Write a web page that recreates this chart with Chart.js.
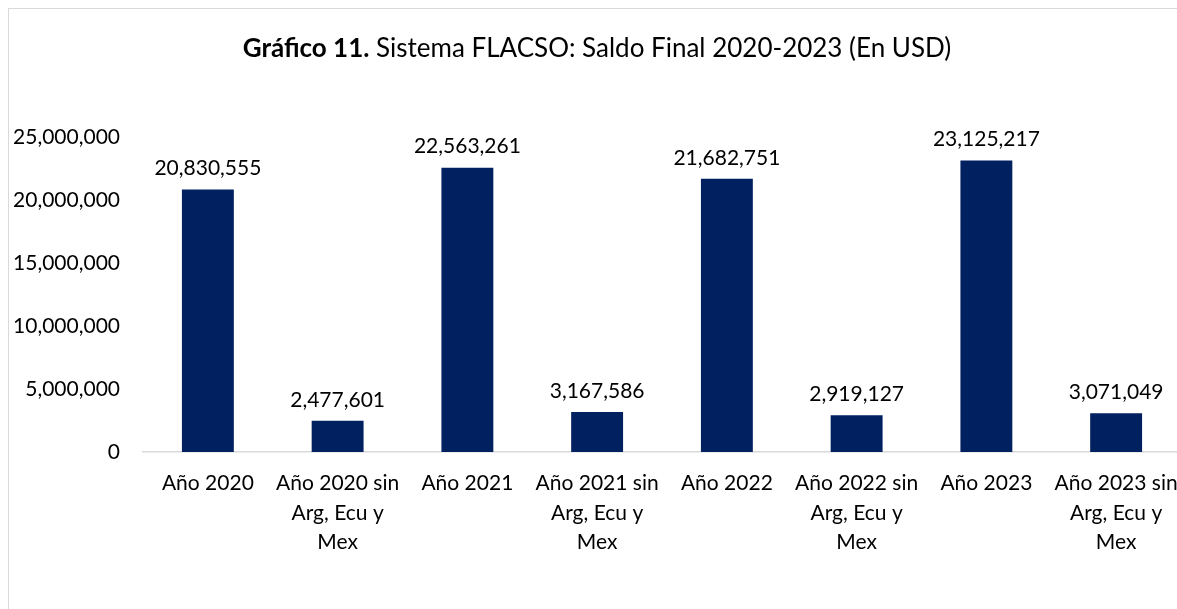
<!DOCTYPE html>
<html>
<head>
<meta charset="utf-8">
<script src="https://cdn.jsdelivr.net/npm/chart.js@4.4.0/dist/chart.umd.min.js"></script>
<style>
  html, body { margin: 0; padding: 0; background: #ffffff; overflow: hidden; width: 1177px; height: 609px; }
  #frame { position: absolute; left: 8px; top: 8px; width: 1220px; height: 640px; border: 1px solid #d9d9d9; box-sizing: border-box; }
  #wrap { position: absolute; left: 9px; top: 9px; width: 1190px; height: 600px; }
</style>
</head>
<body>
<div id="frame"></div>
<div id="wrap"><canvas id="c" width="1190" height="600"></canvas></div>
<script>
const categories = [
  "Año 2020",
  ["Año 2020 sin", "Arg, Ecu y", "Mex"],
  "Año 2021",
  ["Año 2021 sin", "Arg, Ecu y", "Mex"],
  "Año 2022",
  ["Año 2022 sin", "Arg, Ecu y", "Mex"],
  "Año 2023",
  ["Año 2023 sin", "Arg, Ecu y", "Mex"]
];
const saldoFinal = [20830555, 2477601, 22563261, 3167586, 21682751, 2919127, 23125217, 3071049];
const yTicks = [0, 5000000, 10000000, 15000000, 20000000, 25000000];
const titleBold = "Gráfico 11.";
const titleRest = " Sistema FLACSO: Saldo Final 2020-2023 (En USD)";

const FONT = "Lato, 'Open Sans', sans-serif";
const fmt = v => v.toLocaleString('en-US');

const titlePlugin = {
  id: 'mixedTitle',
  afterDraw(chart) {
    const ctx = chart.ctx;
    ctx.save();
    ctx.textBaseline = 'middle';
    ctx.fillStyle = '#000000';
    ctx.font = "bold 26px " + FONT;
    const w1 = ctx.measureText(titleBold).width;
    ctx.font = "26px " + FONT;
    const w2 = ctx.measureText(titleRest).width;
    const cx = 588, cy = 40;
    let x = cx - (w1 + w2) / 2;
    ctx.textAlign = 'left';
    ctx.font = "bold 26px " + FONT;
    ctx.fillText(titleBold, x, cy);
    ctx.font = "26px " + FONT;
    ctx.fillText(titleRest, x + w1, cy);
    ctx.restore();
  }
};

const valueLabels = {
  id: 'valueLabels',
  afterDatasetsDraw(chart) {
    const ctx = chart.ctx;
    const meta = chart.getDatasetMeta(0);
    ctx.save();
    ctx.font = "21px " + FONT;
    ctx.fillStyle = '#000000';
    ctx.textAlign = 'center';
    ctx.textBaseline = 'middle';
    meta.data.forEach((bar, i) => {
      ctx.fillText(fmt(chart.data.datasets[0].data[i]), bar.x, bar.y - 21);
    });
    ctx.restore();
  }
};

new Chart(document.getElementById('c'), {
  type: 'bar',
  data: {
    labels: categories,
    datasets: [{
      data: saldoFinal,
      backgroundColor: '#002060',
      borderWidth: 0,
      barPercentage: 0.4,
      categoryPercentage: 1.0
    }]
  },
  options: {
    responsive: false,
    animation: false,
    devicePixelRatio: 1,
    layout: { padding: { top: 128, right: 18, left: 0, bottom: 0 } },
    plugins: {
      legend: { display: false },
      title: { display: false },
      tooltip: { enabled: false }
    },
    scales: {
      x: {
        grid: { display: false, drawTicks: false },
        border: { display: true, color: '#d9d9d9', width: 1.5 },
        ticks: {
          color: '#000000',
          font: { family: FONT, size: 21, lineHeight: 1.4 },
          padding: 17,
          maxRotation: 0,
          autoSkip: false
        },
        afterFit: s => { s.height = 157; }
      },
      y: {
        min: 0,
        max: 25000000,
        afterBuildTicks: s => { s.ticks = yTicks.map(v => ({ value: v })); },
        grid: { display: false, drawTicks: false },
        border: { display: false },
        ticks: {
          color: '#000000',
          font: { family: FONT, size: 21 },
          padding: 23,
          callback: v => fmt(v)
        },
        afterFit: s => { s.width = 134; }
      }
    }
  },
  plugins: [titlePlugin, valueLabels]
});
</script>
</body>
</html>
